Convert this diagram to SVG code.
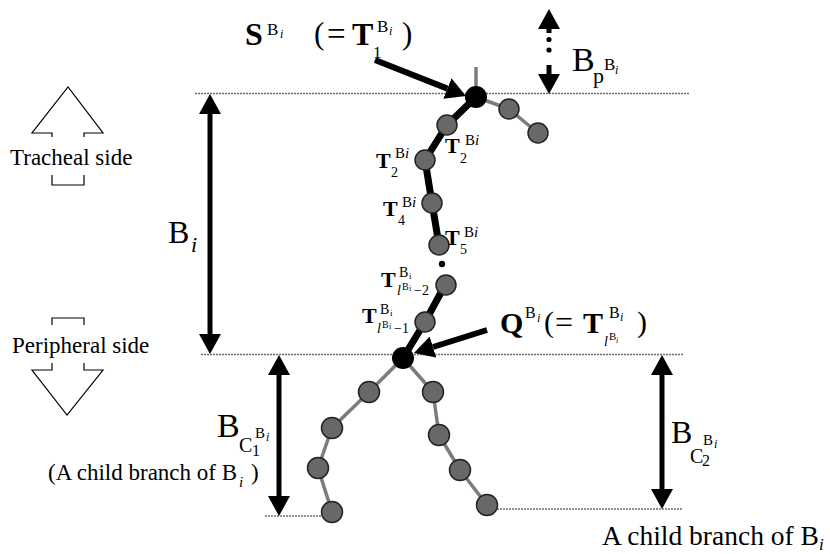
<svg xmlns="http://www.w3.org/2000/svg" width="830" height="554" viewBox="0 0 830 554">
<defs>
<marker id="ah" viewBox="0 0 20 22" refX="0" refY="11" markerWidth="20" markerHeight="22" markerUnits="userSpaceOnUse" orient="auto-start-reverse">
<path d="M0,0 L20,11 L0,22 z" fill="#000"/>
</marker>
<style>
.dot{stroke:#6e6e6e;stroke-width:1.3;stroke-dasharray:2 1;fill:none}
.dim{stroke:#000;stroke-width:5;fill:none}
.ptr{stroke:#000;stroke-width:6;fill:none}
.outline{stroke:#000;stroke-width:1.2;fill:none}
.chain{stroke:#000;stroke-width:7;fill:none;stroke-linejoin:round}
.twig{stroke:#7c7c7c;stroke-width:3.5;fill:none;stroke-linejoin:round}
.gn{fill:#686868;stroke:#222;stroke-width:1.5}
.bn{fill:#000}
.t{font-family:"Liberation Serif","Times New Roman",serif;fill:#000}
.b{font-weight:bold}
.it{font-style:italic}
</style>
</defs>
<rect width="830" height="554" fill="#fff"/>

<g id="guides">
<line class="dot" x1="195" y1="93.5" x2="690" y2="93.5"/>
<line class="dot" x1="201" y1="354.5" x2="683" y2="354.5"/>
<line class="dot" x1="265" y1="516" x2="326" y2="516"/>
<line class="dot" x1="497" y1="509" x2="682" y2="509"/>
</g>

<g id="direction-tracheal">
<polyline class="outline" points="52,137 52,133 32,133 68,87 103,133 84,133 84,137"/>
<polyline class="outline" points="52,175 52,185 84,185 84,175"/>
<text class="t" x="10" y="165" font-size="23">Tracheal side</text>
</g>
<g id="direction-peripheral">
<polyline class="outline" points="52,325 52,318 84,318 84,325"/>
<polyline class="outline" points="52,363 52,370 32,370 67,415 103,370 84,370 84,363"/>
<text class="t" x="12" y="353" font-size="23">Peripheral side</text>
</g>

<g id="connectors">
<line class="dim" x1="210" y1="114" x2="210" y2="334" marker-start="url(#ah)" marker-end="url(#ah)"/>
<line class="dim" x1="279" y1="375" x2="279" y2="496" marker-start="url(#ah)" marker-end="url(#ah)"/>
<line class="dim" x1="662" y1="375" x2="662" y2="489" marker-start="url(#ah)" marker-end="url(#ah)"/>
<line class="dim" x1="549" y1="33" x2="549" y2="29" marker-end="url(#ah)"/>
<line class="dim" x1="549" y1="65" x2="549" y2="74" marker-end="url(#ah)"/>
<circle cx="549" cy="39.5" r="2.6"/>
<circle cx="549" cy="50" r="2.6"/>
<line class="ptr" x1="375" y1="60" x2="447.4" y2="88.6" marker-end="url(#ah)"/>
<line class="ptr" x1="487" y1="330" x2="433" y2="347" marker-end="url(#ah)"/>
</g>

<g id="tree">
<line class="twig" x1="476" y1="97" x2="476" y2="67"/>
<polyline class="twig" points="476,97 509,109 538,133"/>
<polyline class="twig" points="403,358 369,392 332,428 318,468 332,512"/>
<polyline class="twig" points="403,358 433,392 439,435 460,470 487,505"/>
<polyline class="chain" points="476,97 447,125 425,160 432,203 439,245"/>
<polyline class="chain" points="447,276 445,285 425,322 403,358"/>
<circle cx="442" cy="264" r="3.2"/>
</g>

<g id="node-S"><circle class="bn" cx="476" cy="97" r="11"/></g>
<g id="node-side1"><circle class="gn" cx="509" cy="109" r="10"/></g>
<g id="node-side2"><circle class="gn" cx="538" cy="133" r="10"/></g>
<g id="node-T2a"><circle class="gn" cx="447" cy="125" r="10"/></g>
<g id="node-T2b"><circle class="gn" cx="425" cy="160" r="10"/></g>
<g id="node-T4"><circle class="gn" cx="432" cy="203" r="10"/></g>
<g id="node-T5"><circle class="gn" cx="439" cy="245" r="10"/></g>
<g id="node-Tl2"><circle class="gn" cx="446" cy="285" r="10"/></g>
<g id="node-Tl1"><circle class="gn" cx="425" cy="322" r="10"/></g>
<g id="node-Q"><circle class="bn" cx="403" cy="358" r="11"/></g>
<g id="node-c1">
<circle class="gn" cx="369" cy="392" r="10.5"/>
<circle class="gn" cx="332" cy="428" r="10.5"/>
<circle class="gn" cx="318" cy="468" r="10.5"/>
<circle class="gn" cx="332" cy="512" r="10.5"/>
</g>
<g id="node-c2">
<circle class="gn" cx="433" cy="392" r="10.5"/>
<circle class="gn" cx="439" cy="435" r="10.5"/>
<circle class="gn" cx="460" cy="470" r="10.5"/>
<circle class="gn" cx="487" cy="505" r="10.5"/>
</g>

<g id="labels">
<text class="t"><tspan class="b" x="245" y="45" font-size="32">S</tspan><tspan x="267" y="35" font-size="17">B</tspan><tspan class="it" x="280" y="38" font-size="12">i</tspan><tspan x="314" y="44" font-size="31">(</tspan><tspan x="327" y="45" font-size="33">=</tspan><tspan class="b" x="352" y="45" font-size="32">T</tspan><tspan x="377" y="32" font-size="17">B</tspan><tspan class="it" x="389" y="35" font-size="12">i</tspan><tspan x="373" y="58" font-size="17">1</tspan><tspan x="402" y="44" font-size="31">)</tspan></text>

<text class="t"><tspan x="572" y="71" font-size="34">B</tspan><tspan x="593" y="83" font-size="22">p</tspan><tspan x="604" y="70" font-size="17">B</tspan><tspan class="it" x="615" y="74" font-size="12">i</tspan></text>

<text class="t"><tspan x="168" y="243" font-size="32">B</tspan><tspan class="it" x="191" y="252" font-size="22">i</tspan></text>

<text class="t"><tspan class="b" x="445" y="153" font-size="22">T</tspan><tspan x="465" y="145" font-size="15">B</tspan><tspan class="it" font-size="15">i</tspan><tspan x="460" y="163" font-size="14">2</tspan></text>
<text class="t"><tspan class="b" x="376" y="168" font-size="22">T</tspan><tspan x="395" y="158" font-size="15">B</tspan><tspan class="it" font-size="15">i</tspan><tspan x="391" y="177" font-size="14">2</tspan></text>
<text class="t"><tspan class="b" x="383" y="216" font-size="22">T</tspan><tspan x="402" y="207" font-size="15">B</tspan><tspan class="it" font-size="15">i</tspan><tspan x="398" y="225" font-size="14">4</tspan></text>
<text class="t"><tspan class="b" x="445" y="245" font-size="22">T</tspan><tspan x="464" y="237" font-size="15">B</tspan><tspan class="it" font-size="15">i</tspan><tspan x="460" y="254" font-size="14">5</tspan></text>

<text class="t"><tspan class="b" x="381" y="287" font-size="22">T</tspan><tspan x="399" y="277" font-size="14">B</tspan><tspan x="409" y="279" font-size="9">i</tspan><tspan class="it" x="397" y="295" font-size="14">l</tspan><tspan x="402" y="290" font-size="10">B</tspan><tspan x="409" y="291" font-size="8">i</tspan><tspan x="414" y="295" font-size="14">−2</tspan></text>
<text class="t"><tspan class="b" x="362" y="323" font-size="22">T</tspan><tspan x="380" y="314" font-size="14">B</tspan><tspan x="390" y="316" font-size="9">i</tspan><tspan class="it" x="377" y="333" font-size="14">l</tspan><tspan x="382" y="328" font-size="10">B</tspan><tspan x="389" y="329" font-size="8">i</tspan><tspan x="394" y="333" font-size="14">−1</tspan></text>

<text class="t"><tspan class="b" x="500" y="333" font-size="30">Q</tspan><tspan x="525" y="318" font-size="16">B</tspan><tspan class="it" x="537" y="322" font-size="12">i</tspan><tspan x="544" y="332" font-size="30">(</tspan><tspan x="555" y="333" font-size="32">=</tspan><tspan class="b" x="583" y="333" font-size="30">T</tspan><tspan x="609" y="318" font-size="16">B</tspan><tspan class="it" x="620" y="321" font-size="12">i</tspan><tspan class="it" x="604" y="346" font-size="14">l</tspan><tspan x="609" y="340" font-size="11">B</tspan><tspan class="it" x="616" y="343" font-size="8">i</tspan><tspan x="637" y="332" font-size="30">)</tspan></text>

<text class="t"><tspan x="217" y="437" font-size="34">B</tspan><tspan x="239" y="452" font-size="20">C</tspan><tspan x="252" y="456" font-size="16">1</tspan><tspan x="255" y="438" font-size="15">B</tspan><tspan class="it" x="266" y="441" font-size="12">i</tspan></text>
<text class="t"><tspan x="48" y="480" font-size="23">(A child branch of B</tspan><tspan class="it" x="239" y="487" font-size="15">i</tspan><tspan x="251" y="480" font-size="23">)</tspan></text>

<text class="t"><tspan x="671" y="443" font-size="32">B</tspan><tspan x="690" y="463" font-size="20">C</tspan><tspan x="702" y="466" font-size="16">2</tspan><tspan x="703" y="445" font-size="15">B</tspan><tspan class="it" x="714" y="448" font-size="12">i</tspan></text>
<text class="t"><tspan x="602" y="545" font-size="27.5">A child branch of B</tspan><tspan class="it" x="819" y="550" font-size="17">i</tspan></text>
</g>
</svg>
